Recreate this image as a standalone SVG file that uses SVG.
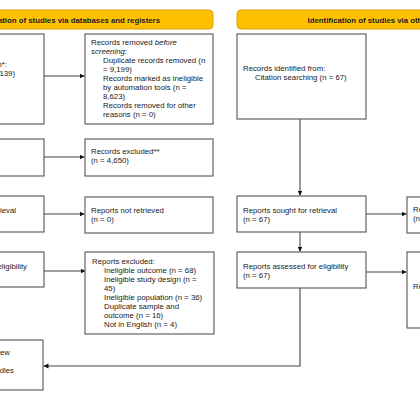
<svg xmlns="http://www.w3.org/2000/svg" width="420" height="420" viewBox="0 0 420 420">
<defs>
<style>
.hdr{fill:#FFC000;stroke:#D9A300;stroke-width:1}
.ht{font-family:"Liberation Sans",Arial,sans-serif;font-size:7.8px;font-weight:bold;fill:#222}
.box{fill:#fff;stroke:#555;stroke-width:1.1}
.t{font-family:"Liberation Sans",Arial,sans-serif;font-size:7.8px;fill:#222}
.ln{fill:none;stroke:#444;stroke-width:1.1}
</style>
<marker id="ah" markerWidth="6" markerHeight="6" refX="5" refY="3" orient="auto" markerUnits="userSpaceOnUse">
<path d="M0,0.5 L5,3 L0,5.5 Z" fill="#111"/>
</marker>
</defs>
<rect width="420" height="420" fill="#fff"/>

<g id="hdr-left"><rect class="hdr" x="-85" y="10" width="298" height="19" rx="4"/><text class="ht" x="64" y="22.5" text-anchor="middle">Identification of studies via databases and registers</text></g>
<g id="hdr-right"><rect class="hdr" x="237" y="10" width="300" height="19" rx="4"/><text class="ht" x="386" y="22.5" text-anchor="middle">Identification of studies via other methods</text></g>

<g id="connectors">
<line class="ln" x1="44" y1="76" x2="84.5" y2="76" marker-end="url(#ah)"/>
<line class="ln" x1="44" y1="157" x2="84.5" y2="157" marker-end="url(#ah)"/>
<line class="ln" x1="44" y1="214" x2="84.5" y2="214" marker-end="url(#ah)"/>
<line class="ln" x1="44" y1="271" x2="85.5" y2="271" marker-end="url(#ah)"/>
<line class="ln" x1="300" y1="119" x2="300" y2="195.5" marker-end="url(#ah)"/>
<line class="ln" x1="366" y1="214" x2="406.5" y2="214" marker-end="url(#ah)"/>
<line class="ln" x1="300" y1="232" x2="300" y2="251.5" marker-end="url(#ah)"/>
<line class="ln" x1="366" y1="272" x2="406.5" y2="272" marker-end="url(#ah)"/>
<polyline class="ln" points="300,288 300,366 43.5,366" marker-end="url(#ah)"/>
</g>

<g id="records-identified-db"><rect class="box" x="-85" y="34" width="129" height="90"/>
<text class="t" x="7" y="67" text-anchor="end">Records identified from*:</text>
<text class="t" x="15" y="76" text-anchor="end">139)</text></g>

<g id="records-removed"><rect class="box" x="85" y="34" width="128" height="90"/>
<text class="t" x="91" y="45">Records removed <tspan font-style="italic">before</tspan></text>
<text class="t" x="91" y="54"><tspan font-style="italic">screening</tspan>:</text>
<text class="t" x="103" y="63">Duplicate records removed (n</text>
<text class="t" x="103" y="72">= 9,199)</text>
<text class="t" x="103" y="81">Records marked as ineligible</text>
<text class="t" x="103" y="90">by automation tools (n =</text>
<text class="t" x="103" y="99">8,623)</text>
<text class="t" x="103" y="108">Records removed for other</text>
<text class="t" x="103" y="117">reasons (n = 0)</text></g>

<g id="records-screened"><rect class="box" x="-85" y="139" width="129" height="37"/></g>
<g id="records-excluded"><rect class="box" x="85" y="139" width="128" height="37"/>
<text class="t" x="91" y="154">Records excluded**</text>
<text class="t" x="91" y="163">(n = 4,650)</text></g>

<g id="reports-sought-db"><rect class="box" x="-85" y="196" width="129" height="36"/>
<text class="t" x="16" y="213" text-anchor="end">Reports sought for retrieval</text></g>
<g id="reports-not-retrieved-db"><rect class="box" x="85" y="197" width="128" height="36"/>
<text class="t" x="91" y="213">Reports not retrieved</text>
<text class="t" x="91" y="222">(n = 0)</text></g>

<g id="reports-assessed-db"><rect class="box" x="-85" y="252" width="129" height="35"/>
<text class="t" x="27" y="269" text-anchor="end">Reports assessed for eligibility</text></g>
<g id="reports-excluded-db"><rect class="box" x="85" y="252" width="129" height="82"/>
<text class="t" x="92" y="264">Reports excluded:</text>
<text class="t" x="104" y="273">Ineligible outcome (n = 68)</text>
<text class="t" x="104" y="282">Ineligible study design (n =</text>
<text class="t" x="104" y="291">45)</text>
<text class="t" x="104" y="300">Ineligible population (n = 36)</text>
<text class="t" x="104" y="309">Duplicate sample and</text>
<text class="t" x="104" y="318">outcome (n = 16)</text>
<text class="t" x="104" y="327">Not in English (n = 4)</text></g>

<g id="studies-included"><rect class="box" x="-85" y="340" width="128" height="50"/>
<text class="t" x="10" y="355" text-anchor="end">Studies included in review</text>
<text class="t" x="14" y="373" text-anchor="end">Reports of included studies</text></g>

<g id="records-identified-other"><rect class="box" x="237" y="34" width="129" height="85"/>
<text class="t" x="243" y="71">Records identified from:</text>
<text class="t" x="255" y="80">Citation searching (n = 67)</text></g>

<g id="reports-sought-other"><rect class="box" x="237" y="196" width="129" height="36"/>
<text class="t" x="243" y="213">Reports sought for retrieval</text>
<text class="t" x="243" y="222">(n = 67)</text></g>
<g id="reports-not-retrieved-other"><rect class="box" x="407" y="197" width="129" height="36"/>
<text class="t" x="413" y="212">Reports not retrieved</text>
<text class="t" x="413" y="221">(n = 0)</text></g>

<g id="reports-assessed-other"><rect class="box" x="237" y="252" width="129" height="36"/>
<text class="t" x="243" y="269">Reports assessed for eligibility</text>
<text class="t" x="243" y="278">(n = 67)</text></g>
<g id="reports-excluded-other"><rect class="box" x="407" y="252" width="129" height="76"/>
<text class="t" x="413" y="289">Reports excluded:</text></g>
</svg>
